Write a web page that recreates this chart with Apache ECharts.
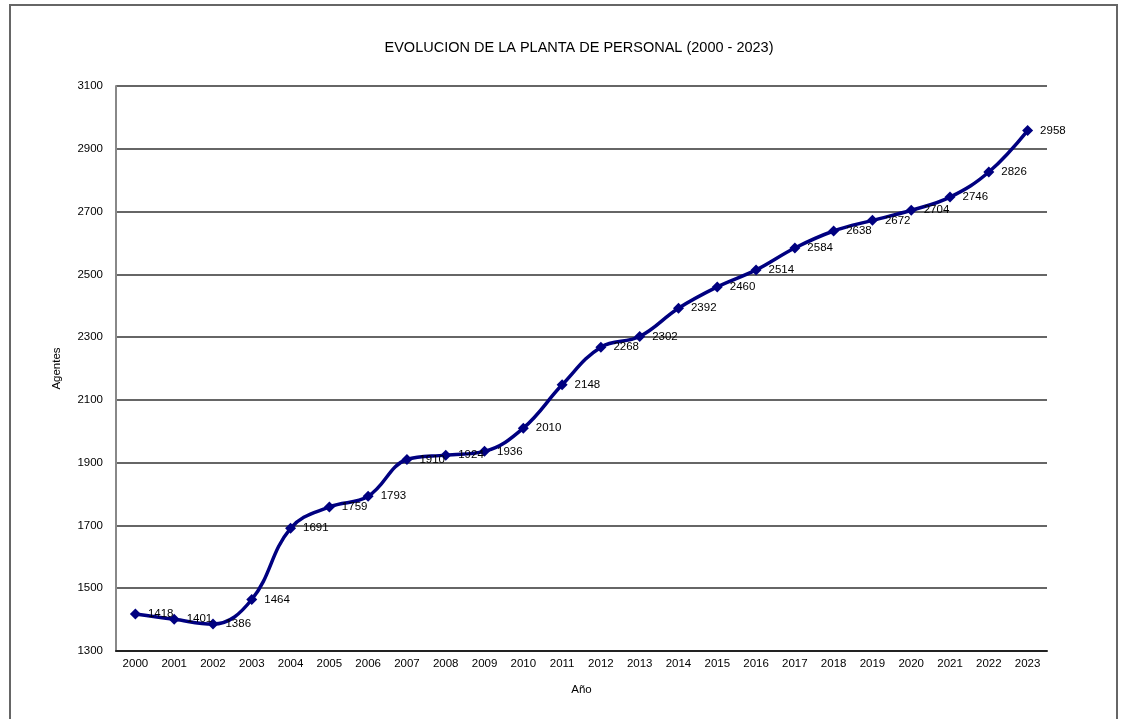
<!DOCTYPE html>
<html>
<head>
<meta charset="utf-8">
<script src="https://cdn.jsdelivr.net/npm/echarts@6/dist/echarts.min.js"></script>
<style>
  html, body { margin: 0; padding: 0; background: #fff; }
  #chart { width: 1125px; height: 719px; }
</style>
</head>
<body>
<div id="chart"></div>
<script>
var anios = ['2000','2001','2002','2003','2004','2005','2006','2007','2008','2009','2010','2011',
             '2012','2013','2014','2015','2016','2017','2018','2019','2020','2021','2022','2023'];
var agentes = [1418,1401,1386,1464,1691,1759,1793,1910,1924,1936,2010,2148,
               2268,2302,2392,2460,2514,2584,2638,2672,2704,2746,2826,2958];

var chart = echarts.init(document.getElementById('chart'));

chart.setOption({
    animation: false,
    backgroundColor: '#fff',
    textStyle: { fontFamily: 'Liberation Sans, Arial, sans-serif' },
    graphic: [{
        type: 'rect',
        shape: { x: 10, y: 5, width: 1107, height: 730 },
        style: { fill: 'none', stroke: '#666', lineWidth: 2 },
        silent: true
    }],
    title: {
        text: 'EVOLUCION DE LA PLANTA DE PERSONAL (2000 - 2023)',
        left: 574, top: 35, textAlign: 'center',
        textStyle: { fontSize: 14.5, fontWeight: 'normal', color: '#000' }
    },
    grid: { left: 116, right: 78, top: 86, bottom: 68 },
    xAxis: {
        type: 'category',
        data: anios,
        boundaryGap: true,
        name: 'Año',
        nameLocation: 'middle',
        nameGap: 33,
        nameTextStyle: { fontSize: 11.5, color: '#000' },
        axisLine: { lineStyle: { color: '#222', width: 2 } },
        axisTick: { show: false },
        axisLabel: { fontSize: 11.5, color: '#000', margin: 7, interval: 0 }
    },
    yAxis: {
        type: 'value',
        min: 1300, max: 3100, interval: 200,
        name: 'Agentes',
        nameLocation: 'middle',
        nameGap: 53,
        nameTextStyle: { fontSize: 11.5, color: '#000' },
        axisLine: { show: true, lineStyle: { color: '#888', width: 2 } },
        axisTick: { show: false },
        axisLabel: {
            fontSize: 11.5, color: '#000', margin: 13,
            formatter: function (v) { return String(v); }
        },
        splitLine: { lineStyle: { color: '#666', width: 2 } }
    },
    series: [{
        type: 'line',
        data: agentes,
        smooth: 0.4,
        symbol: 'diamond',
        symbolSize: 11,
        lineStyle: { color: '#000080', width: 3.5 },
        itemStyle: { color: '#000080' },
        label: {
            show: true,
            position: 'right',
            distance: 7,
            fontSize: 11.5,
            color: '#000'
        }
    }]
});
</script>
</body>
</html>
